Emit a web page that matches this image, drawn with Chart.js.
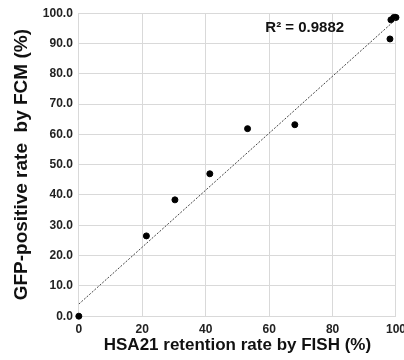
<!DOCTYPE html>
<html>
<head>
<meta charset="utf-8">
<script src="https://cdn.jsdelivr.net/npm/chart.js@4"></script>
<style>
  html, body { margin: 0; padding: 0; background: #fff; overflow: hidden; }
  #wrap { width: 412px; height: 360px; }
</style>
</head>
<body>
<div id="wrap"><canvas id="chart"></canvas></div>
<script>
// FISH retention rate (x) vs GFP-positive rate by FCM (y)
const fishRate = [0, 21.3, 30.3, 41.3, 53.2, 68.1, 98.1, 98.4, 99.3, 100];
const fcmRate = [0, 26.5, 38.4, 47.0, 61.9, 63.2, 91.5, 97.8, 98.6, 98.6];
const rSquaredText = "R\u00b2 = 0.9882";

// trendline
const trendIntercept = 4.0;
const trendSlope = 0.94;
const trendX = [0, 100];

const trend = trendX.map((x) => ({ x, y: trendIntercept + trendSlope * x }));
const points = fishRate.map((x, i) => ({ x, y: fcmRate[i] }));

const font = "'Liberation Sans', Arial, sans-serif";
const gridColor = "#d9d9d9";

// R² label in the upper right of the plot
const r2Label = {
  id: "r2Label",
  afterDatasetsDraw(chart) {
    const { ctx, scales } = chart;
    ctx.save();
    ctx.font = "bold 15px " + font;
    ctx.fillStyle = "#111";
    ctx.textBaseline = "middle";
    ctx.fillText(rSquaredText, scales.x.getPixelForValue(58.8), scales.y.getPixelForValue(95));
    ctx.restore();
  },
};

new Chart(document.getElementById("chart"), {
  type: "scatter",
  data: {
    datasets: [
      {
        type: "line",
        data: trend,
        borderColor: "#444",
        borderWidth: 1,
        borderDash: [2, 1.5],
        pointRadius: 0,
        fill: false,
      },
      {
        data: points,
        backgroundColor: "#000",
        borderColor: "#000",
        pointRadius: 3,
        clip: false,
      },
    ],
  },
  options: {
    responsive: true,
    maintainAspectRatio: false,
    animation: false,
    layout: { padding: { top: 5, left: 10, right: 0, bottom: 4 } },
    plugins: { legend: { display: false }, tooltip: { enabled: false } },
    scales: {
      x: {
        type: "linear",
        min: 0,
        max: 100,
        grid: { color: gridColor, drawTicks: false },
        border: { color: gridColor },
        ticks: {
          stepSize: 20,
          padding: 6,
          color: "#222",
          font: { family: font, size: 12, weight: "bold" },
        },
        title: {
          display: true,
          text: "HSA21 retention rate by FISH (%)",
          color: "#111",
          padding: { top: -7, bottom: 0 },
          font: { family: font, size: 17, weight: "bold" },
        },
      },
      y: {
        min: 0,
        max: 100,
        grid: { color: gridColor, drawTicks: false },
        border: { color: gridColor },
        ticks: {
          stepSize: 10,
          padding: 6,
          color: "#222",
          font: { family: font, size: 12, weight: "bold" },
          callback: (v) => v.toFixed(1),
        },
        title: {
          display: true,
          text: "GFP-positive rate  by FCM (%)",
          color: "#111",
          padding: { top: 0, bottom: 4 },
          font: { family: font, size: 19, weight: "bold" },
        },
      },
    },
  },
  plugins: [r2Label],
});
</script>
</body>
</html>
